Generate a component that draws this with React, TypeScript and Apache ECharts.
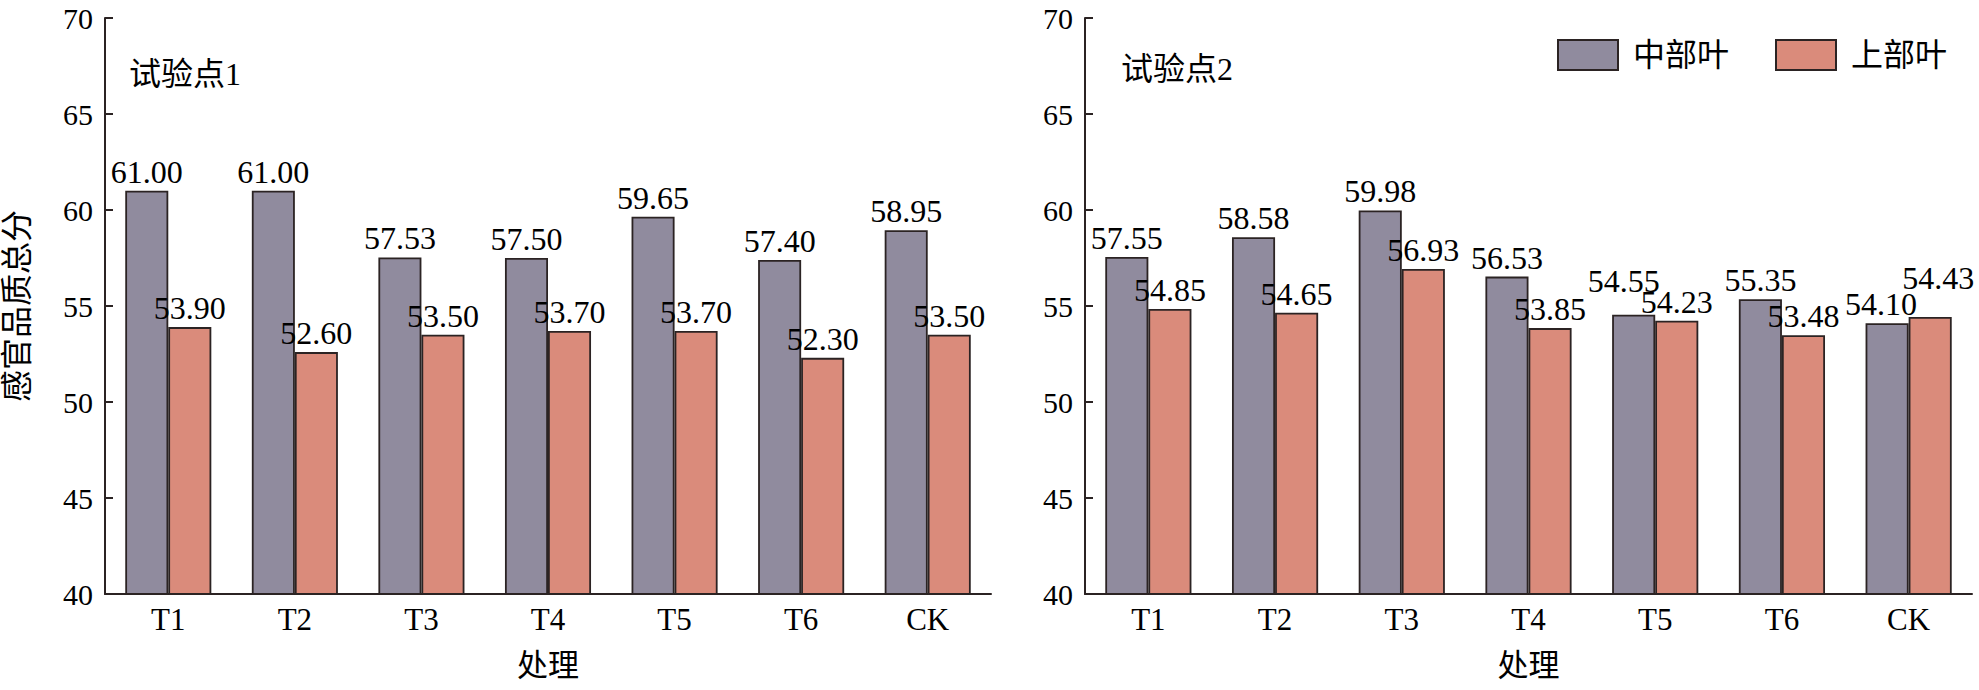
import React, { useEffect, useRef } from 'react';
import * as echarts from 'echarts';

const categories = ['T1', 'T2', 'T3', 'T4', 'T5', 'T6', 'CK'];
const yTicks = [40, 45, 50, 55, 60, 65, 70];

const site1Middle = [61.0, 61.0, 57.53, 57.5, 59.65, 57.4, 58.95];
const site1Upper = [53.9, 52.6, 53.5, 53.7, 53.7, 52.3, 53.5];
const site2Middle = [57.55, 58.58, 59.98, 56.53, 54.55, 55.35, 54.1];
const site2Upper = [54.85, 54.65, 56.93, 53.85, 54.23, 53.48, 54.43];

// labels that the original figure nudged by hand (series key -> category index -> [dx, dy])
const labelNudges: Record<string, Record<number, number[]>> = {
    s2m: { 4: [-10, -15], 6: [-6, 0] },
    s2u: { 6: [8, -20] },
};

const FONT = '"Liberation Serif", "Times New Roman", "Noto Sans CJK SC", serif';
const GRAY = '#908b9e';
const ORANGE = '#da8b7b';
const INK = '#2b2323';

const App: React.FC = () => {
    const chartRef = useRef<HTMLDivElement>(null);

    useEffect(() => {
        document.body.style.margin = '0';
        if (!chartRef.current) return;
        const myChart = echarts.init(chartRef.current, null, { renderer: 'svg' });

        const xAxisBase = (gridIndex: number) => ({
            type: 'category',
            gridIndex,
            data: categories,
            name: '处理',
            nameLocation: 'middle',
            nameGap: 56,
            nameTextStyle: { fontFamily: FONT, fontSize: 31, color: '#000' },
            axisLine: { lineStyle: { color: INK, width: 2 } },
            axisTick: { show: false },
            axisLabel: { fontFamily: FONT, fontSize: 31, color: '#000', margin: 10 },
        });

        const yAxisBase = (gridIndex: number) => ({
            type: 'value',
            gridIndex,
            min: yTicks[0],
            max: yTicks[yTicks.length - 1],
            interval: 5,
            splitLine: { show: false },
            axisLine: { show: true, lineStyle: { color: INK, width: 2 } },
            axisTick: { show: true, inside: true, length: 8, lineStyle: { color: INK, width: 2 } },
            axisLabel: { fontFamily: FONT, fontSize: 30, color: '#000', margin: 12 },
        });

        const barSeries = (name: string, key: string, values: number[], color: string, idx: number) => ({
            name,
            type: 'bar',
            xAxisIndex: idx,
            yAxisIndex: idx,
            data: values.map((v, i) => {
                const nudge = labelNudges[key] && labelNudges[key][i];
                return nudge ? { value: v, label: { offset: nudge } } : v;
            }),
            barGap: '0%',
            barCategoryGap: '32%',
            itemStyle: { color, borderColor: INK, borderWidth: 1.8 },
            label: {
                show: true,
                position: 'top',
                distance: 3,
                fontFamily: FONT,
                fontSize: 32,
                color: '#000',
                formatter: (p: any) => Number(p.value).toFixed(2),
            },
        });

        const titleStyle = { fontFamily: FONT, fontSize: 32, fontWeight: 'normal', color: '#000' };

        const option = {
            animation: false,
            backgroundColor: '#fff',
            textStyle: { fontFamily: FONT },
            title: [
                { text: '试验点1', left: 129, top: 58, padding: 0, textStyle: titleStyle },
                { text: '试验点2', left: 1121, top: 53, padding: 0, textStyle: titleStyle },
            ],
            legend: {
                left: 1557,
                top: 39,
                padding: 0,
                icon: 'rect',
                itemWidth: 60,
                itemHeight: 30,
                itemGap: 46,
                textStyle: { fontFamily: FONT, fontSize: 32, color: '#000', padding: [0, 0, 0, 10] },
                data: ['中部叶', '上部叶'],
            },
            grid: [
                { left: 105, top: 18, width: 886, height: 576 },
                { left: 1085, top: 18, width: 887, height: 576 },
            ],
            xAxis: [xAxisBase(0), xAxisBase(1)],
            yAxis: [
                {
                    ...yAxisBase(0),
                    name: '感官品质总分',
                    nameLocation: 'middle',
                    nameGap: 72,
                    nameTextStyle: { fontFamily: FONT, fontSize: 32, color: '#000' },
                },
                yAxisBase(1),
            ],
            series: [
                barSeries('中部叶', 's1m', site1Middle, GRAY, 0),
                barSeries('上部叶', 's1u', site1Upper, ORANGE, 0),
                barSeries('中部叶', 's2m', site2Middle, GRAY, 1),
                barSeries('上部叶', 's2u', site2Upper, ORANGE, 1),
            ],
        };

        myChart.setOption(option as any);

        return () => {
            myChart.dispose();
        };
    }, []);

    return <div ref={chartRef} style={{ width: '1979px', height: '690px' }} />;
};

export default App;
